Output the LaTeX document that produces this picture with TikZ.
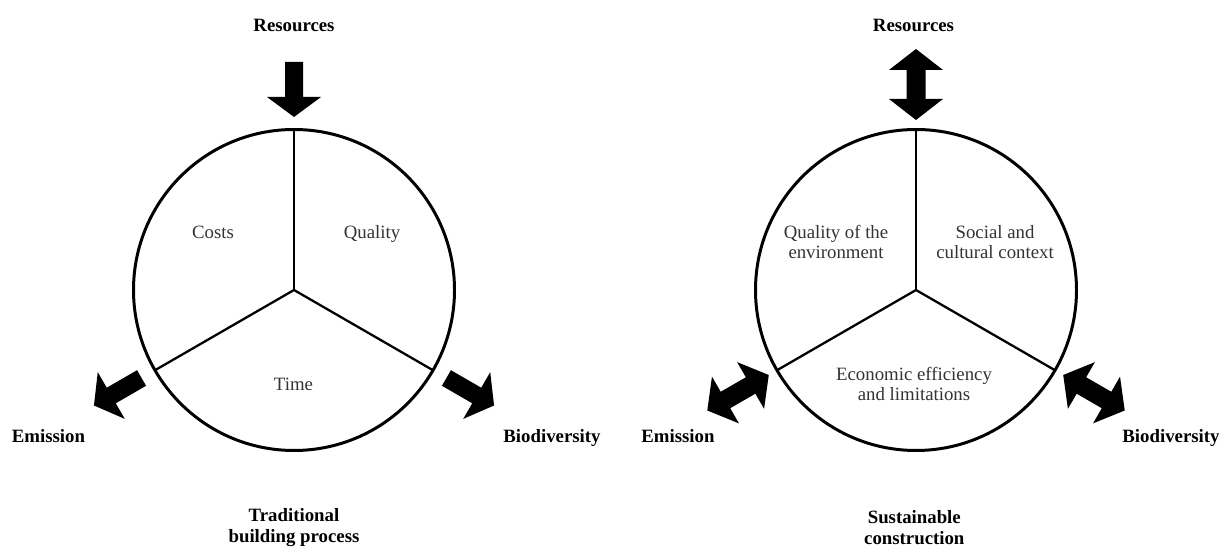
\documentclass[tikz,border=0pt]{standalone}
\usepackage{fontspec}
\setmainfont{Liberation Serif}

\tikzset{
	fatarrow/.pic={\fill (0,-9) -- (35,-9) -- (35,-27) -- (55,0) -- (35,27) -- (35,9) -- (0,9) -- cycle;},
	dblarrow/.pic={\fill (0,0) -- (21,27) -- (21,9.5) -- (50,9.5) -- (50,27) -- (71,0) -- (50,-27) -- (50,-9.5) -- (21,-9.5) -- (21,-27) -- cycle;},
	outerlabel/.style={font=\fontsize{10.7}{12.2}\selectfont\bfseries, align=center},
	innerlabel/.style={font=\fontsize{10.7}{11.4}\selectfont, align=center, text=black!80},
	oneline/.style={text height=1.6ex, text depth=0.45ex},
	wheel/.style={line width=1.7pt},
	spoke/.style={line width=1.3pt}
}

\begin{document}
\begin{tikzpicture}[x=0.02cm, y=0.02cm]
	\useasboundingbox (0,0) rectangle (1221,547);
	\coordinate (L) at (294,257);
	\coordinate (R) at (916,257);
	\draw[wheel] (L) circle (160.5);
	\draw[wheel] (R) circle (160.5);
	\foreach \a in {90,210,330} {
		\draw[spoke] (L) -- ++(\a:160.5);
		\draw[spoke] (R) -- ++(\a:160.5);
		\path (R) ++(\a:170) pic[rotate=\a] {dblarrow};
	}
	\path (L) ++(90:228) pic[rotate=-90] {fatarrow};
	\foreach \a in {210,330} \path (L) ++(\a:176) pic[rotate=\a] {fatarrow};
	\node[outerlabel, oneline] (res1) at (294,520) {Resources};
	\node[outerlabel, oneline] (em1) at (48.5,109) {Emission};
	\node[outerlabel, oneline] (bio1) at (552,109) {Biodiversity};
	\node[outerlabel] (title1) at (294,19.5) {Traditional\\building process};
	\node[innerlabel, oneline] (costs) at (213,313) {Costs};
	\node[innerlabel, oneline] (quality) at (372,313) {Quality};
	\node[innerlabel, oneline] (time) at (293.5,161) {Time};
	\node[outerlabel, oneline] (res2) at (913.5,520) {Resources};
	\node[outerlabel, oneline] (em2) at (678,109) {Emission};
	\node[outerlabel, oneline] (bio2) at (1171,109) {Biodiversity};
	\node[outerlabel] (title2) at (914.3,19.5) {Sustainable\\construction};
	\node[innerlabel] (env) at (836,305.3) {Quality of the\\environment};
	\node[innerlabel] (social) at (995,305.3) {Social and\\cultural context};
	\node[innerlabel] (econ) at (914,163.3) {Economic efficiency\\and limitations};
\end{tikzpicture}
\end{document}
